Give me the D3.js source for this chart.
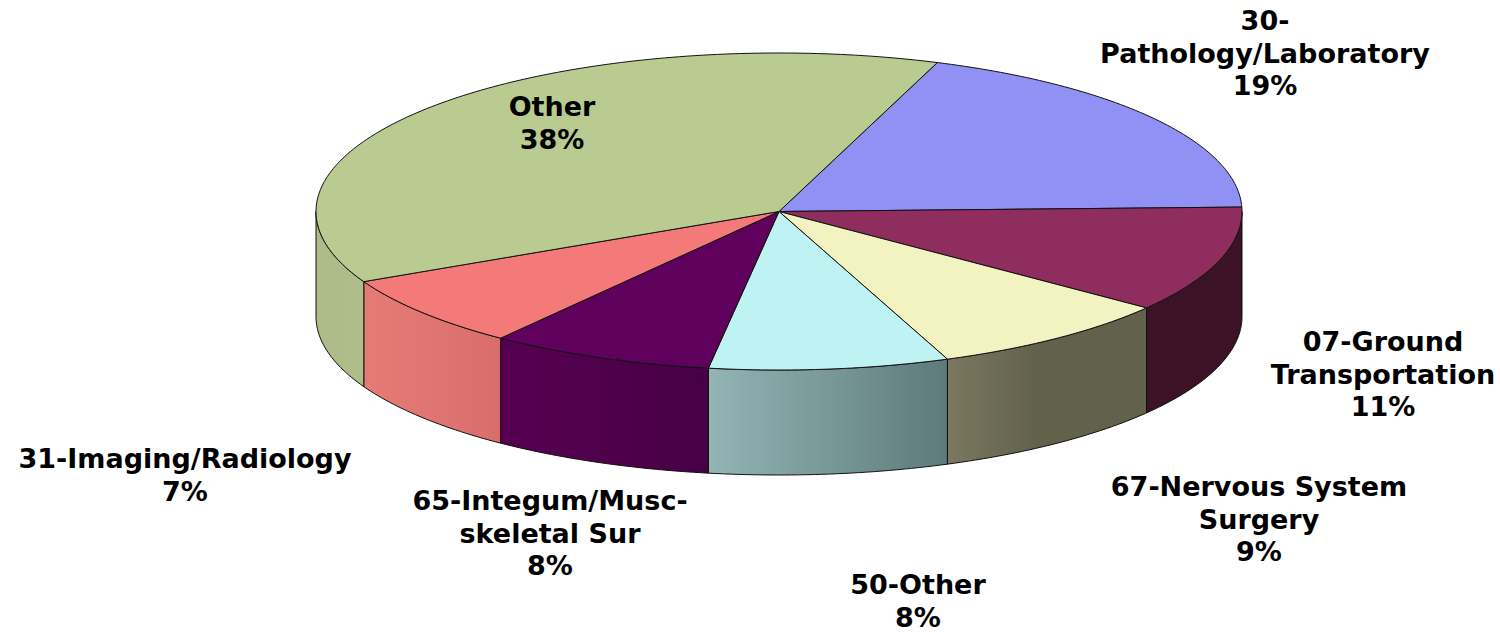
<!DOCTYPE html>
<html>
<head>
<meta charset="utf-8">
<script src="https://cdn.jsdelivr.net/npm/d3@7"></script>
<style>
    html, body { margin: 0; padding: 0; background: #fff; }
    svg { display: block; }
    text { font-family: "DejaVu Sans", Verdana, sans-serif; font-weight: bold; font-size: 27px; fill: #000; }
</style>
</head>
<body>
<div id="chart"></div>
<script>
// Slices in drawing order, clockwise from the Other/Pathology edge
const categories = [
    ["30-", "Pathology/Laboratory"],
    ["07-Ground", "Transportation"],
    ["67-Nervous System", "Surgery"],
    ["50-Other"],
    ["65-Integum/Musc-", "skeletal Sur"],
    ["31-Imaging/Radiology"],
    ["Other"]
];
const values = [19.0, 10.85, 8.67, 8.36, 7.83, 7.44, 37.85];
const topColors = ["#9191f5", "#8e2d5e", "#f3f2c1", "#bff2f2", "#5f005c", "#f47a7a", "#bacb92"];
const sideLeft = ["#9191f5", "#3b1226", "#7a785f", "#93b5b5", "#570052", "#e67b76", "#acbb88"];
const sideRight = ["#9191f5", "#3b1226", "#62614b", "#5e7a7b", "#470045", "#d96d6a", "#aebd89"];
// where each side gradient reaches its end colour
const sideStop = ["100%", "100%", "45%", "100%", "100%", "100%", "100%"];
// label centre x and first baseline y
const labelX = [1265, 1383, 1259, 918, 550, 185, 552];
const labelY = [30, 351, 496, 594, 510, 468, 116];

const width = 1500, height = 632;
const lineHeight = 32.6;
const depth = 105;

const svg = d3.select("#chart").append("svg")
    .attr("width", width)
    .attr("height", height);

// Unit circle squashed onto the tilted pie ellipse
const x = d3.scaleLinear().domain([-1, 1]).range([316, 1242]);
const y = d3.scaleLinear().domain([-1, 1]).range([53, 370]);

const pie = d3.pie()
    .sort(null)
    .startAngle(20 * Math.PI / 180)
    .endAngle(380 * Math.PI / 180);
const slices = pie(values);

function rimPoint(a) {
    return [x(Math.sin(a)), y(-Math.cos(a))];
}

function rimPoints(a0, a1) {
    const n = Math.max(2, Math.ceil((a1 - a0) * 60));
    return d3.range(n + 1).map(i => rimPoint(a0 + (a1 - a0) * i / n));
}

const line = d3.line();
const defs = svg.append("defs");

// Side walls: only the part of the rim facing the viewer (90deg to 270deg)
slices.forEach(function (d, i) {
    const a0 = Math.max(d.startAngle, Math.PI / 2);
    const a1 = Math.min(d.endAngle, 3 * Math.PI / 2);
    if (a1 <= a0) return;

    const grad = defs.append("linearGradient").attr("id", "side" + i);
    grad.append("stop").attr("offset", "0%").attr("stop-color", sideLeft[i]);
    grad.append("stop").attr("offset", sideStop[i]).attr("stop-color", sideRight[i]);

    const upper = rimPoints(a0, a1);
    const lower = upper.map(p => [p[0], p[1] + depth]).reverse();
    svg.append("path")
        .attr("d", line(upper.concat(lower)) + "Z")
        .attr("fill", "url(#side" + i + ")")
        .attr("stroke", "#111")
        .attr("stroke-width", 1)
        .attr("stroke-linejoin", "round");
});

// Top face
slices.forEach(function (d, i) {
    const pts = [[x(0), y(0)]].concat(rimPoints(d.startAngle, d.endAngle));
    svg.append("path")
        .attr("d", line(pts) + "Z")
        .attr("fill", topColors[i])
        .attr("stroke", "#111")
        .attr("stroke-width", 1)
        .attr("stroke-linejoin", "round");
});

// Labels
const labels = svg.selectAll(".label")
    .data(categories)
    .enter().append("text")
    .attr("class", "label")
    .attr("text-anchor", "middle");

labels.each(function (lines, i) {
    const all = lines.concat([Math.round(values[i]) + "%"]);
    d3.select(this).selectAll("tspan")
        .data(all)
        .enter().append("tspan")
        .attr("x", labelX[i])
        .attr("y", (t, j) => labelY[i] + j * lineHeight)
        .text(t => t);
});
</script>
</body>
</html>
